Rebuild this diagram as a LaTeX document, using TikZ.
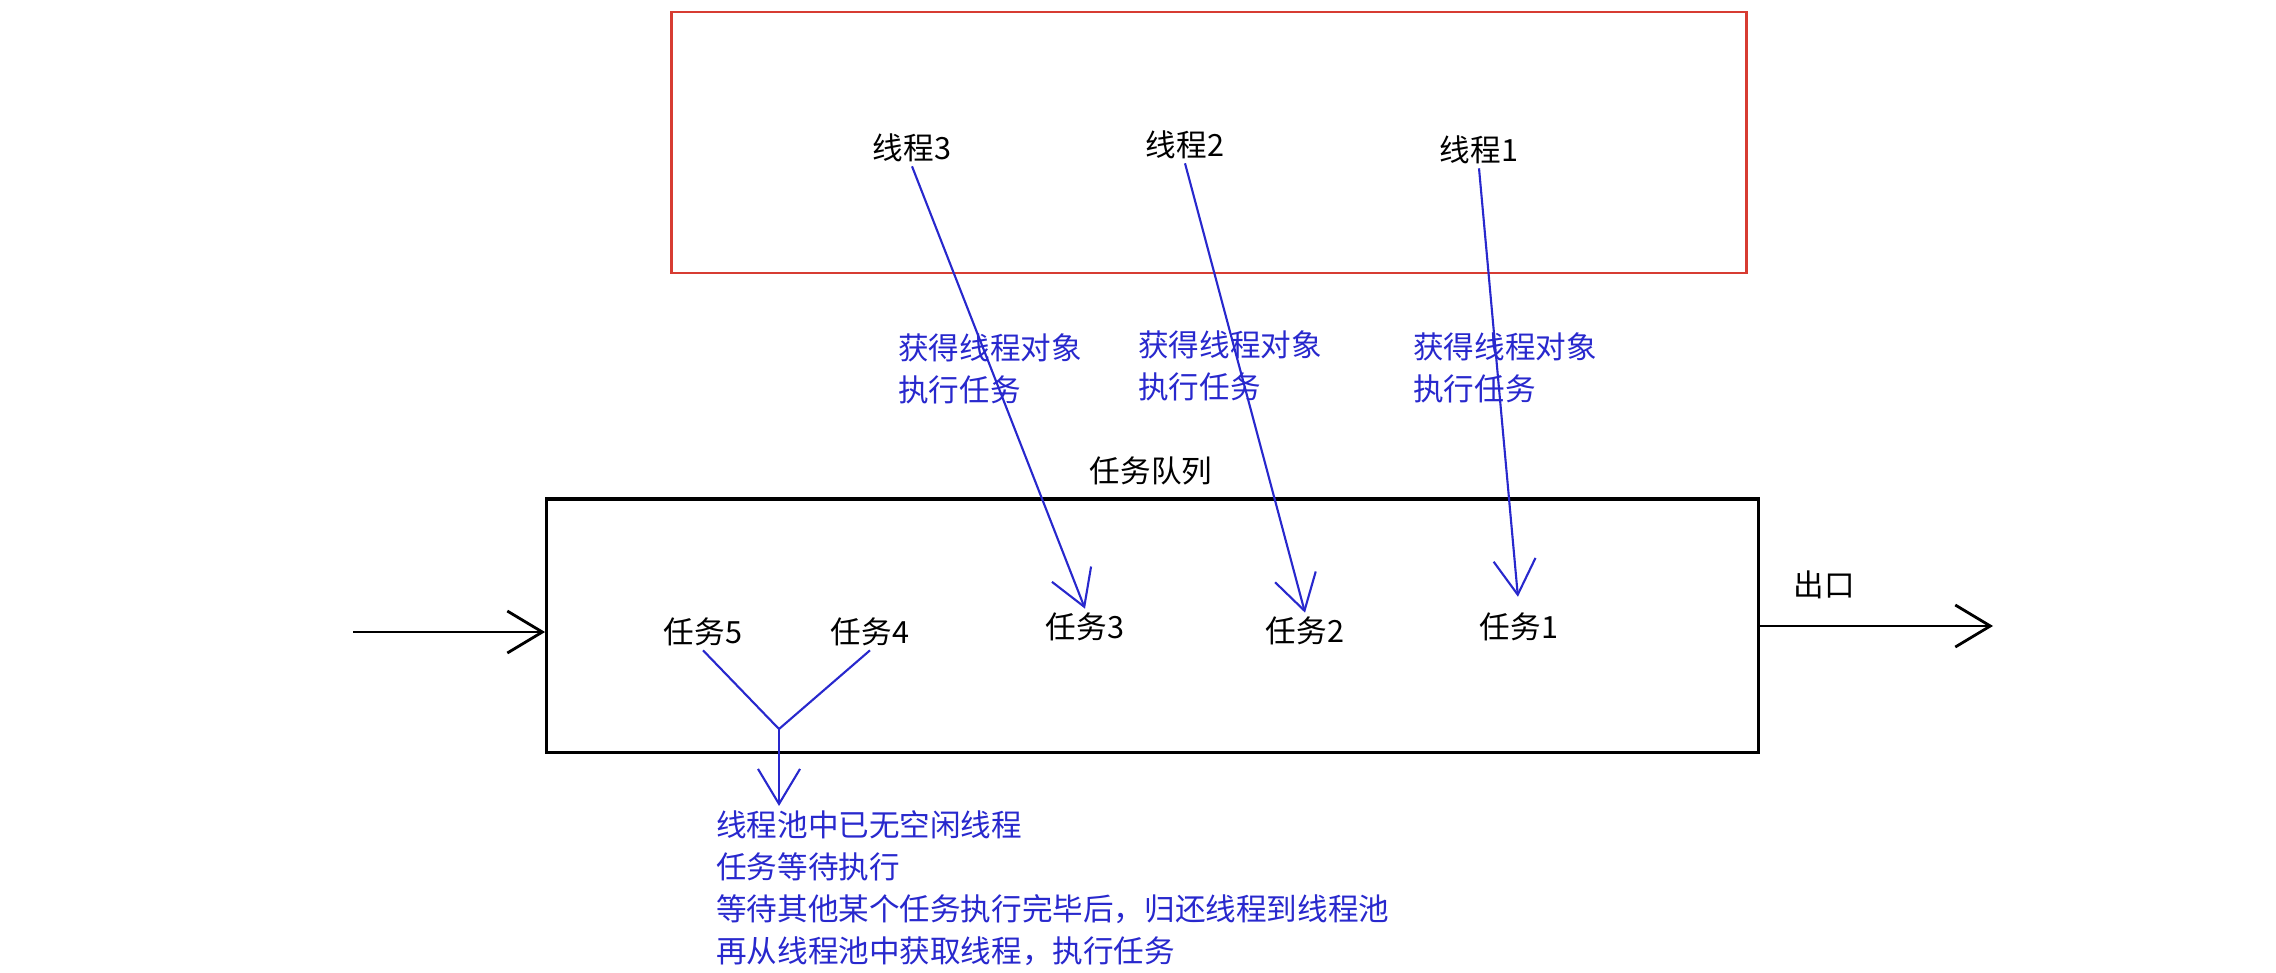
\documentclass[tikz,border=0pt]{standalone}
\usepackage{fontspec}
\setmainfont{Noto Sans CJK SC}
\usetikzlibrary{arrows.meta}
\definecolor{penblue}{RGB}{40,40,205}
\definecolor{boxred}{RGB}{215,60,50}

\begin{document}
\begin{tikzpicture}[x=0.01cm,y=-0.01cm,
  every node/.style={font=\fontsize{8.7pt}{12pt}\selectfont,inner sep=1pt},
  arr/.style={-{Straight Barb[length=0.35cm,width=0.42cm]},line width=0.6pt},
  note/.style={text=penblue,align=left}]
\useasboundingbox (0,0) rectangle (2276,972);
% thread pool and task queue
\node[draw=boxred,line width=0.8pt,minimum width=10.74cm,minimum height=2.61cm] (pool) at (1209,142.5) {};
\node[draw,line width=0.9pt,minimum width=12.11cm,minimum height=2.53cm] (queue) at (1152.5,625.5) {};
\node (qlabel) at (1151,471) {任务队列};
\node (exit) at (1824,585) {出口};
\foreach \i/\x/\y in {1/1479/150,2/1185/145,3/912/148}
{       \node (t\i) at (\x,\y) {线程\i};
}
\foreach \i/\x/\y in {1/1519/627,2/1305/631,3/1085/627,4/870/632,5/703/632}
{       \node (k\i) at (\x,\y) {任务\i};
}
\foreach \i/\x/\y in {1/1505/368,2/1230/366,3/990/369}
{       \node[note] (g\i) at (\x,\y) {获得线程对象\\执行任务};
}
\foreach \i/\s in {1/0.12cm,2/0cm,3/0cm}
{       \draw[arr,penblue,shorten >=\s] (t\i.south) -- (k\i.north);
}
% in and out
\coordinate (in) at (353,632);
\coordinate (out) at (1993,626);
\draw[arr,line width=0.8pt] (in) -- (in -| queue.west);
\draw[arr,line width=0.8pt] (out -| queue.east) -- (out);
% waiting tasks
\coordinate (j) at (779,729);
\node[note,anchor=north west] (wait) at (712,806) {线程池中已无空闲线程\\任务等待执行\\等待其他某个任务执行完毕后，归还线程到线程池\\再从线程池中获取线程，执行任务};
\draw[penblue,line width=0.6pt] (k5.south) -- (j) -- (k4.south);
\draw[arr,penblue] (j) -- (j |- wait.north);
\end{tikzpicture}
\end{document}
